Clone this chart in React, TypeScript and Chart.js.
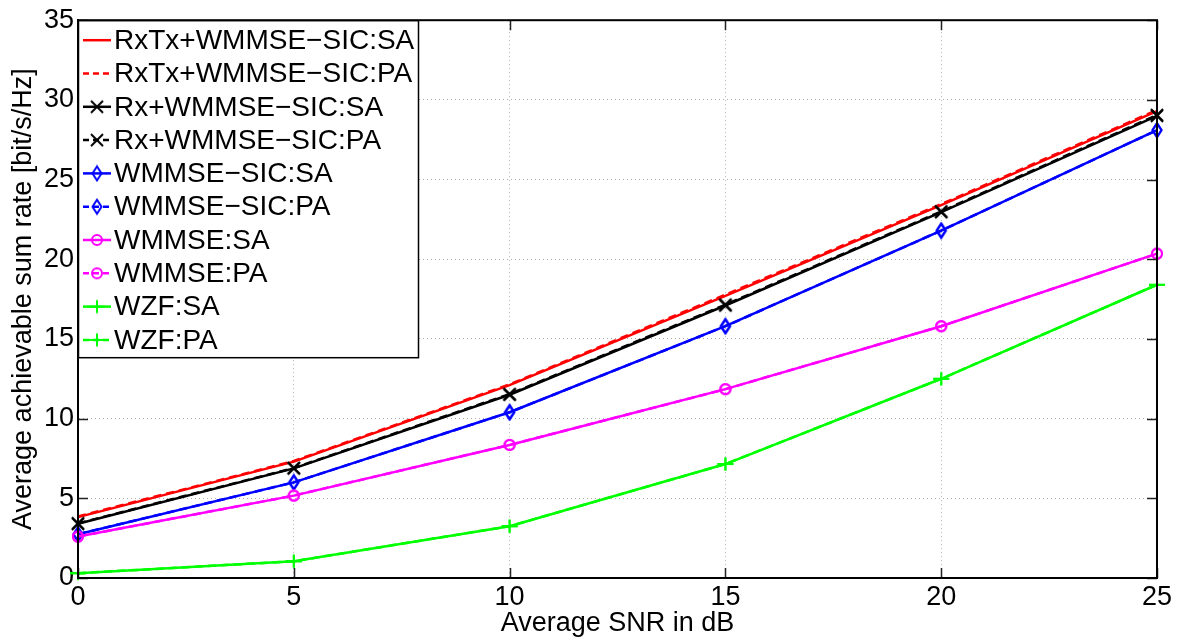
import React, { useEffect, useRef } from "react";
import { Chart, registerables } from "chart.js";
Chart.register(...registerables);

const snr = [0, 5, 10, 15, 20, 25];
const rxtxSA = [3.82, 7.3, 12.1, 17.7, 23.4, 29.3];
const rxtxPA = [3.86, 7.34, 12.15, 17.78, 23.46, 29.36];
const rxSA = [3.4, 6.88, 11.5, 17.1, 22.96, 29.0];
const rxPA = [3.43, 6.9, 11.54, 17.15, 23.0, 29.05];
const sicSA = [2.74, 6.0, 10.4, 15.8, 21.8, 28.1];
const sicPA = [2.75, 6.0, 10.4, 15.8, 21.8, 28.1];
const wmmseSA = [2.6, 5.17, 8.35, 11.85, 15.8, 20.35];
const wmmsePA = [2.6, 5.17, 8.35, 11.85, 15.8, 20.35];
const wzfSA = [0.3, 1.05, 3.25, 7.15, 12.5, 18.4];
const wzfPA = [0.3, 1.05, 3.25, 7.15, 12.5, 18.4];

const seriesLabels = [
  "RxTx+WMMSE\u2212SIC:SA",
  "RxTx+WMMSE\u2212SIC:PA",
  "Rx+WMMSE\u2212SIC:SA",
  "Rx+WMMSE\u2212SIC:PA",
  "WMMSE\u2212SIC:SA",
  "WMMSE\u2212SIC:PA",
  "WMMSE:SA",
  "WMMSE:PA",
  "WZF:SA",
  "WZF:PA",
];
const seriesValues = [rxtxSA, rxtxPA, rxSA, rxPA, sicSA, sicPA, wmmseSA, wmmsePA, wzfSA, wzfPA];
const seriesColors = ["#ff0000", "#ff0000", "#000000", "#000000", "#0000ff", "#0000ff", "#ff00ff", "#ff00ff", "#00ff00", "#00ff00"];
const seriesMarkers = ["none", "none", "x", "x", "diamond", "diamond", "circle", "circle", "plus", "plus"];
const seriesDashed = [false, true, false, true, false, true, false, true, false, true];

const yTicks = [0, 5, 10, 15, 20, 25, 30, 35];
const xTicks = [0, 5, 10, 15, 20, 25];

const FONT = "'Liberation Sans', Arial, Helvetica, sans-serif";

function makeMarker(kind: string, color: string): HTMLCanvasElement | null {
  if (kind === "none") return null;
  const c = document.createElement("canvas");
  let w = 16, h = 16;
  if (kind === "diamond") { w = 14; h = 18; }
  if (kind === "plus") { w = 18; h = 16; }
  c.width = w; c.height = h;
  const ctx = c.getContext("2d")!;
  ctx.strokeStyle = color;
  ctx.lineWidth = 2;
  ctx.beginPath();
  if (kind === "x") {
    ctx.moveTo(2, 2); ctx.lineTo(14, 14);
    ctx.moveTo(14, 2); ctx.lineTo(2, 14);
  } else if (kind === "diamond") {
    ctx.moveTo(7, 2); ctx.lineTo(11.5, 9); ctx.lineTo(7, 16); ctx.lineTo(2.5, 9); ctx.closePath();
  } else if (kind === "circle") {
    ctx.arc(8, 8, 5, 0, Math.PI * 2);
  } else if (kind === "plus") {
    ctx.moveTo(1, 8); ctx.lineTo(17, 8);
    ctx.moveTo(9, 1.5); ctx.lineTo(9, 14.5);
  }
  ctx.stroke();
  return c;
}

export default function App() {
  const ref = useRef<HTMLCanvasElement | null>(null);
  useEffect(() => {
    document.body.style.margin = "0";
    const canvas = ref.current!;
    const markers = seriesMarkers.map((m, i) => makeMarker(m, seriesColors[i]));

    const boxPlugin = {
      id: "matlabBox",
      afterDatasetsDraw(chart: any) {
        const ctx = chart.ctx as CanvasRenderingContext2D;
        const { left, right, top, bottom } = chart.chartArea;
        const xs = chart.scales.x;
        const ys = chart.scales.y;
        ctx.save();
        // inward ticks
        ctx.strokeStyle = "#222";
        ctx.lineWidth = 1.5;
        ctx.beginPath();
        for (const v of xTicks) {
          const px = Math.round(xs.getPixelForValue(v)) + 0.5;
          ctx.moveTo(px, bottom); ctx.lineTo(px, bottom - 10);
          ctx.moveTo(px, top); ctx.lineTo(px, top + 10);
        }
        for (const v of yTicks) {
          const py = Math.round(ys.getPixelForValue(v)) + 0.5;
          ctx.moveTo(left, py); ctx.lineTo(left + 10, py);
          ctx.moveTo(right, py); ctx.lineTo(right - 10, py);
        }
        ctx.stroke();
        // frame
        ctx.strokeStyle = "#000";
        ctx.lineWidth = 2;
        ctx.strokeRect(left, top, right - left, bottom - top);

        // legend
        const lx = left, ly = top, lw = 340, lh = 337;
        ctx.fillStyle = "#fff";
        ctx.fillRect(lx, ly, lw, lh);
        ctx.strokeStyle = "#000";
        ctx.lineWidth = 1.5;
        ctx.strokeRect(lx + 0.5, ly + 0.5, lw, lh);
        ctx.font = `28px ${FONT}`;
        ctx.textBaseline = "middle";
        ctx.textAlign = "left";
        for (let i = 0; i < seriesLabels.length; i++) {
          const ry = ly + 20 + i * 33.3;
          ctx.strokeStyle = seriesColors[i];
          ctx.lineWidth = 2.5;
          ctx.setLineDash(seriesDashed[i] ? [6, 4] : []);
          ctx.beginPath();
          ctx.moveTo(lx + 5, ry); ctx.lineTo(lx + 33, ry);
          ctx.stroke();
          ctx.setLineDash([]);
          const m = markers[i];
          if (m) ctx.drawImage(m, lx + 19 - m.width / 2, ry - m.height / 2);
          ctx.fillStyle = "#000";
          ctx.fillText(seriesLabels[i], lx + 36, ry + 1);
        }
        ctx.restore();
      },
    };

    const datasets = seriesLabels.map((label, i) => ({
      label,
      data: snr.map((x, j) => ({ x, y: seriesValues[i][j] })),
      borderColor: seriesColors[i],
      backgroundColor: seriesColors[i],
      borderWidth: 2.5,
      borderDash: seriesDashed[i] ? [8, 5] : [],
      pointStyle: markers[i] || "circle",
      pointRadius: markers[i] ? 6 : 0,
      pointHoverRadius: markers[i] ? 6 : 0,
      tension: 0,
      clip: false as any,
      order: 9 - i,
    }));

    const chart = new Chart(canvas, {
      type: "line",
      data: { datasets },
      options: {
        responsive: false,
        animation: false,
        devicePixelRatio: 1,
        layout: { padding: { top: 17, right: 24, left: 0, bottom: 0 } },
        plugins: { legend: { display: false }, tooltip: { enabled: false } },
        scales: {
          x: {
            type: "linear",
            min: 0,
            max: 25,
            afterFit: (s: any) => { s.height = 63; },
            afterBuildTicks: (s: any) => { s.ticks = xTicks.map((v) => ({ value: v })); },
            ticks: { color: "#000", font: { family: FONT, size: 27 }, padding: 3, maxRotation: 0, autoSkip: false },
            grid: { color: "#b0b0b0", lineWidth: 1, drawTicks: false },
            border: { display: true, color: "#000", width: 2, dash: [1, 3] },
            title: { display: true, text: "Average SNR in dB", color: "#000", font: { family: FONT, size: 27 }, padding: { top: 0, bottom: 1 } },
          },
          y: {
            type: "linear",
            min: 0,
            max: 35,
            afterFit: (s: any) => { s.width = 78; },
            afterBuildTicks: (s: any) => { s.ticks = yTicks.map((v) => ({ value: v })); },
            ticks: { color: "#000", font: { family: FONT, size: 27 }, padding: 4, autoSkip: false },
            grid: { color: "#b0b0b0", lineWidth: 1, drawTicks: false },
            border: { display: true, color: "#000", width: 2, dash: [1, 3] },
            title: { display: true, text: "Average achievable sum rate [bit/s/Hz]", color: "#000", font: { family: FONT, size: 27 }, padding: { top: 7, bottom: 0 } },
          },
        },
      },
      plugins: [boxPlugin],
    });
    return () => chart.destroy();
  }, []);
  return <canvas ref={ref} width={1181} height={641} style={{ display: "block", width: 1181, height: 641 }} />;
}
